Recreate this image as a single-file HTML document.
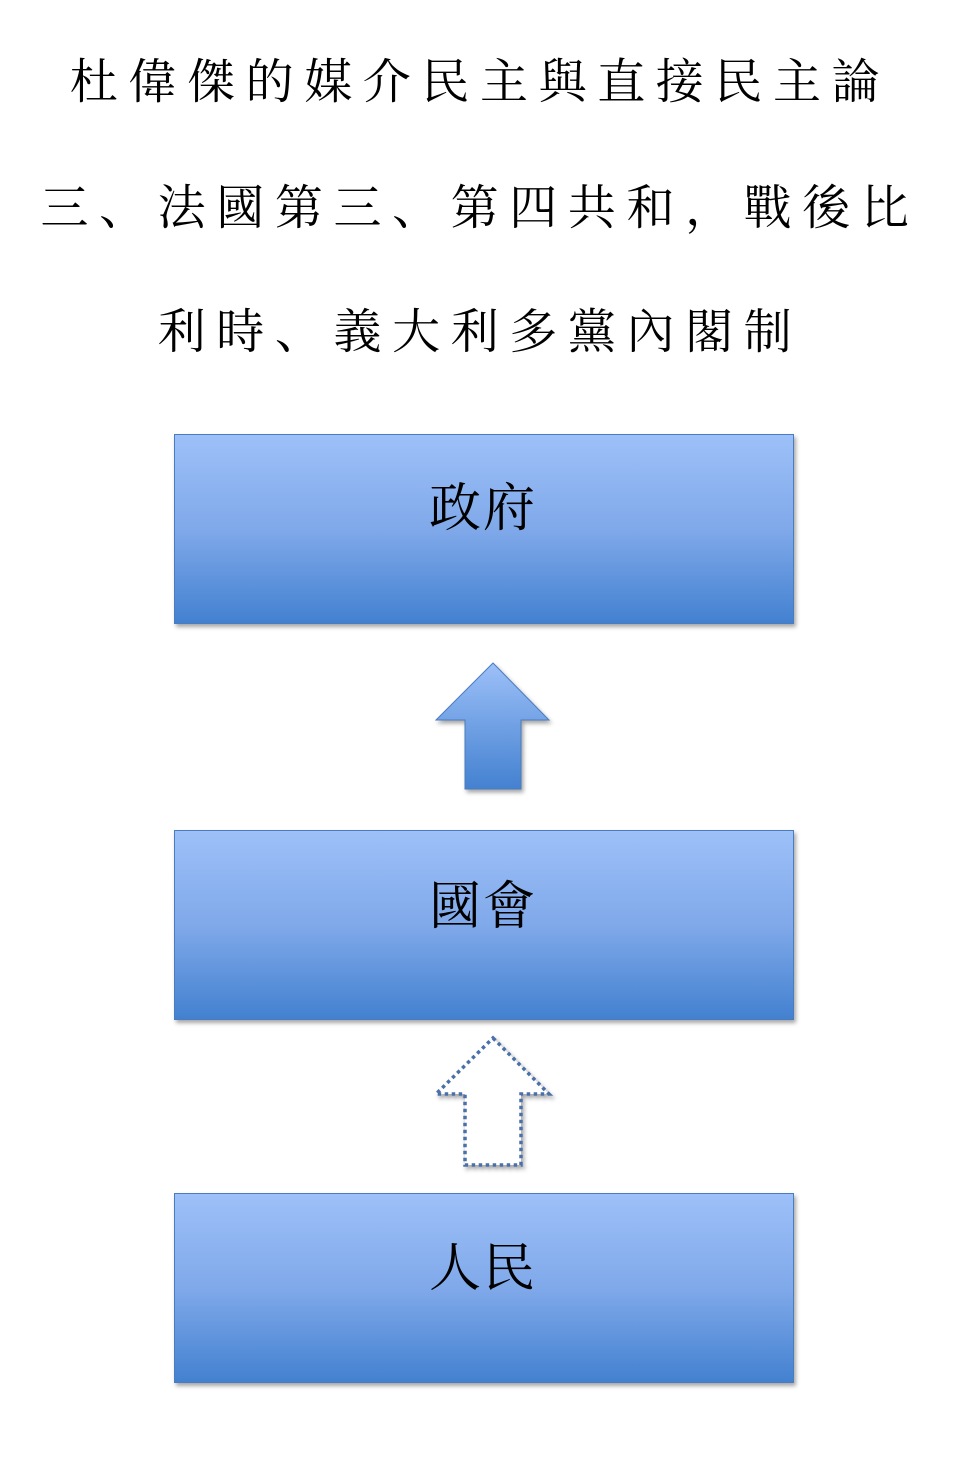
<!DOCTYPE html>
<html><head><meta charset="utf-8"><style>
body{margin:0;width:978px;height:1466px;background:#fff;position:relative;overflow:hidden;font-family:"Noto Serif CJK SC","Noto Serif CJK TC",serif;}
.t{position:absolute;left:-14px;width:978px;text-align:center;font-size:48px;line-height:60px;color:#000;white-space:nowrap;letter-spacing:10.6px;text-indent:10px;}
.box{position:absolute;left:174px;width:618px;height:188px;border:1px solid #4a7cc0;background:linear-gradient(#9dc0f8,#80a9ea 50%,#4381d0);box-shadow:2px 3px 4px rgba(0,0,0,0.35);}
.lbl{position:absolute;left:-6px;width:978px;text-align:center;font-size:52px;line-height:60px;letter-spacing:2px;}
</style></head><body>
<div class="t" style="top:48px;">杜偉傑的媒介民主與直接民主論</div>
<div class="t" style="top:174px;">三、法國第三、第四共和，戰後比</div>
<div class="t" style="top:298px;">利時、義大利多黨內閣制</div>
<div class="box" style="top:434px;"></div>
<div class="box" style="top:830px;"></div>
<div class="box" style="top:1193px;"></div>
<div class="lbl" style="top:474px;">政府</div>
<div class="lbl" style="top:872px;">國會</div>
<div class="lbl" style="top:1234px;">人民</div>
<svg width="978" height="1466" style="position:absolute;left:0;top:0">
<defs><linearGradient id="g" x1="0" y1="0" x2="0" y2="1"><stop offset="0" stop-color="#9dc0f8"/><stop offset="1" stop-color="#4381d0"/></linearGradient>
<filter id="s"><feDropShadow dx="2" dy="3" stdDeviation="2" flood-opacity="0.35"/></filter></defs>
<polygon points="493,663 549,720 521,720 521,789 465,789 465,720 436,720" fill="url(#g)" stroke="#4a7cc0" stroke-width="1" filter="url(#s)"/>
<polygon points="493,1038 549,1094 521,1094 521,1165 465,1165 465,1094 436,1094" fill="#fff" stroke="#4a6fa8" stroke-width="3.5" stroke-dasharray="3.5,3.5" filter="url(#s)"/>
</svg>
</body></html>
